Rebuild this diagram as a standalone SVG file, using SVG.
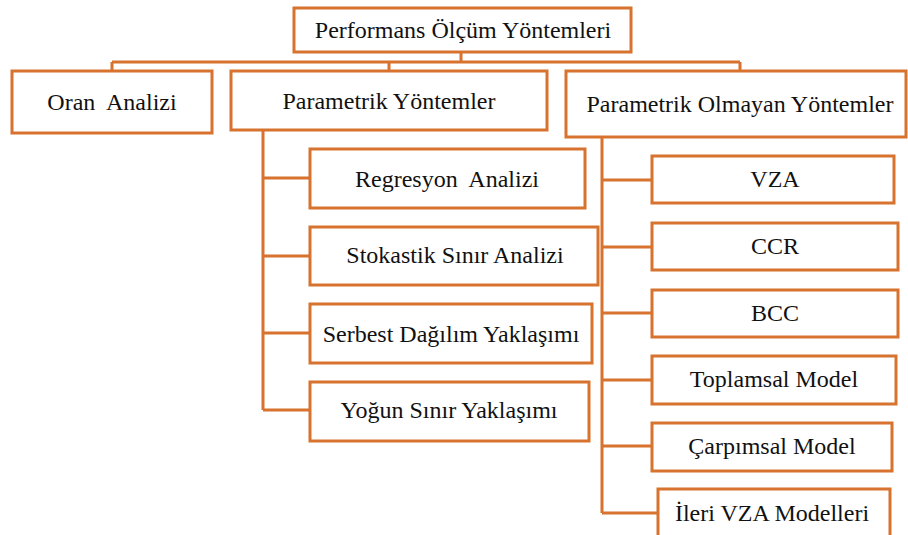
<svg xmlns="http://www.w3.org/2000/svg" width="908" height="535" viewBox="0 0 908 535">
  <style>
    .box { fill: #ffffff; stroke: #D8722F; stroke-width: 3; }
    .line { fill: none; stroke: #D8722F; stroke-width: 3; }
    .lbl { font-family: 'Liberation Serif', 'Times New Roman', serif; font-size: 24px; fill: #111111; text-anchor: middle; white-space: pre; }
  </style>
  <rect width="908" height="535" fill="#ffffff"/>

  <!-- tree connectors -->
  <g id="connectors">
    <path class="line" d="M461 52 V62 M112 62 H740 M112 62 V71 M389 62 V71 M740 62 V71"/>
    <path class="line" d="M263 130 V410 M263 178 H310 M263 256 H310 M263 333 H310 M263 410 H310"/>
    <path class="line" d="M602 137 V513 M602 180 H652 M602 247 H652 M602 313 H652 M602 380 H652 M602 446 H652 M602 513 H658"/>
  </g>

  <g id="root">
    <rect class="box" x="294" y="8" width="337" height="44"/>
    <text class="lbl" x="463" y="38">Performans Ölçüm Yöntemleri</text>
  </g>
  <g id="oran">
    <rect class="box" x="12" y="71" width="200" height="62"/>
    <text class="lbl" x="112" y="110">Oran&#160; Analizi</text>
  </g>
  <g id="parametrik">
    <rect class="box" x="231" y="71" width="316" height="59"/>
    <text class="lbl" x="389" y="109">Parametrik Yöntemler</text>
  </g>
  <g id="parametrik-olmayan">
    <rect class="box" x="566" y="71" width="340" height="66"/>
    <text class="lbl" x="740" y="112">Parametrik Olmayan Yöntemler</text>
  </g>

  <g id="regresyon">
    <rect class="box" x="310" y="149" width="275" height="59"/>
    <text class="lbl" x="447" y="187">Regresyon&#160; Analizi</text>
  </g>
  <g id="stokastik">
    <rect class="box" x="310" y="227" width="288" height="58"/>
    <text class="lbl" x="455" y="263">Stokastik Sınır Analizi</text>
  </g>
  <g id="serbest">
    <rect class="box" x="310" y="304" width="282" height="59"/>
    <text class="lbl" x="451" y="342">Serbest Dağılım Yaklaşımı</text>
  </g>
  <g id="yogun">
    <rect class="box" x="310" y="382" width="279" height="59"/>
    <text class="lbl" x="449" y="418">Yoğun Sınır Yaklaşımı</text>
  </g>

  <g id="vza">
    <rect class="box" x="652" y="156" width="242" height="47"/>
    <text class="lbl" x="775" y="187">VZA</text>
  </g>
  <g id="ccr">
    <rect class="box" x="652" y="223" width="246" height="47"/>
    <text class="lbl" x="775" y="254">CCR</text>
  </g>
  <g id="bcc">
    <rect class="box" x="652" y="290" width="246" height="47"/>
    <text class="lbl" x="775" y="321">BCC</text>
  </g>
  <g id="toplamsal">
    <rect class="box" x="652" y="356" width="244" height="48"/>
    <text class="lbl" x="774" y="387">Toplamsal Model</text>
  </g>
  <g id="carpimsal">
    <rect class="box" x="652" y="423" width="240" height="48"/>
    <text class="lbl" x="772" y="454">Çarpımsal Model</text>
  </g>
  <g id="ileri">
    <rect class="box" x="658" y="489" width="232" height="60"/>
    <text class="lbl" x="772" y="521">İleri VZA Modelleri</text>
  </g>
</svg>
